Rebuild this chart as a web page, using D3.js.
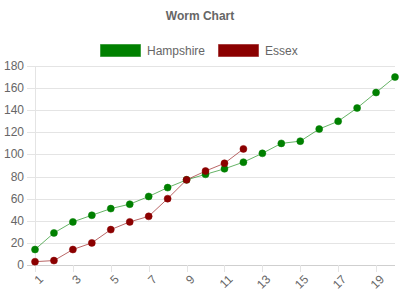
<!DOCTYPE html>
<html lang="en">
<head>
<meta charset="UTF-8">
<title>Worm Chart</title>
<script src="https://d3js.org/d3.v7.min.js"></script>
<style>
  body { margin: 0; background: #fff; }
  text { font-family: "Liberation Sans", Arial, sans-serif; fill: #666; }
</style>
</head>
<body>
<script>
// overs / cumulative runs
var overs = d3.range(1, 21);
var hampshire = [14, 29, 39, 45, 51, 55, 62, 70, 77, 82, 87, 93, 101, 110, 112, 123, 130, 142, 156, 170];
var essex = [3, 4, 14, 20, 32, 39, 44, 60, 77, 85, 92, 105];
var seriesNames = ["Hampshire", "Essex"];
var seriesColors = ["#008000", "#8b0000"];
var yTicks = [0, 20, 40, 60, 80, 100, 120, 140, 160, 180];
var xTicks = [1, 3, 5, 7, 9, 11, 13, 15, 17, 19];

var w = 400, h = 300;
var padL = 35, padR = 395, padT = 66, padB = 265;

var svg = d3.select("body").append("svg")
  .attr("width", w)
  .attr("height", h);

// title
svg.append("text")
  .attr("x", w / 2)
  .attr("y", 20)
  .attr("text-anchor", "middle")
  .style("font-size", "12px")
  .style("font-weight", "bold")
  .text("Worm Chart");

// legend
var legend = svg.append("g");
var legendX = [100, 218];
seriesNames.forEach(function(name, i) {
  var g = legend.append("g").attr("transform", "translate(" + legendX[i] + ",44)");
  g.append("rect")
    .attr("x", 0.5).attr("y", 0.5)
    .attr("width", 40).attr("height", 12)
    .attr("fill", seriesColors[i])
    .attr("stroke", d3.color(seriesColors[i]).copy({opacity: 0.5}))
    .attr("stroke-width", 1);
  g.append("text")
    .attr("x", 47)
    .attr("y", 10.5)
    .style("font-size", "12px")
    .text(name);
});

var x = d3.scaleLinear().domain([1, 20]).range([padL, padR]);
var y = d3.scaleLinear().domain([0, 180]).range([padB, padT]);

// y grid + labels
var yAxis = svg.append("g");
yAxis.selectAll("line")
  .data(yTicks)
  .enter().append("line")
  .attr("x1", padL - 8)
  .attr("x2", padR)
  .attr("y1", function(d) { return Math.round(y(d)) + 0.5; })
  .attr("y2", function(d) { return Math.round(y(d)) + 0.5; })
  .attr("stroke", function(d) { return d === 0 ? "#cfcfcf" : "#e4e4e4"; })
  .attr("stroke-width", 1);
yAxis.selectAll("text")
  .data(yTicks)
  .enter().append("text")
  .attr("x", padL - 11)
  .attr("y", function(d) { return y(d) + 4; })
  .attr("text-anchor", "end")
  .style("font-size", "12px")
  .text(function(d) { return d; });

// y axis line
svg.append("line")
  .attr("x1", padL + 0.5).attr("x2", padL + 0.5)
  .attr("y1", padT).attr("y2", padB)
  .attr("stroke", "#e4e4e4");

// x ticks + labels
var xAxis = svg.append("g");
xAxis.selectAll("line")
  .data(xTicks)
  .enter().append("line")
  .attr("x1", function(d) { return Math.round(x(d)) + 0.5; })
  .attr("x2", function(d) { return Math.round(x(d)) + 0.5; })
  .attr("y1", padB)
  .attr("y2", padB + 7)
  .attr("stroke", "#e4e4e4");
xAxis.selectAll("text")
  .data(xTicks)
  .enter().append("text")
  .attr("transform", function(d) { return "translate(" + (x(d) + 3) + "," + (padB + 9) + ") rotate(-45)"; })
  .attr("text-anchor", "end")
  .attr("dy", "0.7em")
  .style("font-size", "12px")
  .text(function(d) { return d; });

// series
var line = d3.line()
  .x(function(d, i) { return x(overs[i]); })
  .y(function(d) { return y(d); });

[hampshire, essex].forEach(function(data, k) {
  var c = seriesColors[k];
  svg.append("path")
    .datum(data)
    .attr("d", line)
    .attr("fill", "none")
    .attr("stroke", d3.color(c).copy({opacity: 0.6}))
    .attr("stroke-width", 1);
  svg.append("g").selectAll("circle")
    .data(data)
    .enter().append("circle")
    .attr("cx", function(d, i) { return x(overs[i]); })
    .attr("cy", function(d) { return y(d); })
    .attr("r", 3.5)
    .attr("fill", c)
    .attr("stroke", d3.color(c).copy({opacity: 0.5}))
    .attr("stroke-width", 1);
});
</script>
</body>
</html>
